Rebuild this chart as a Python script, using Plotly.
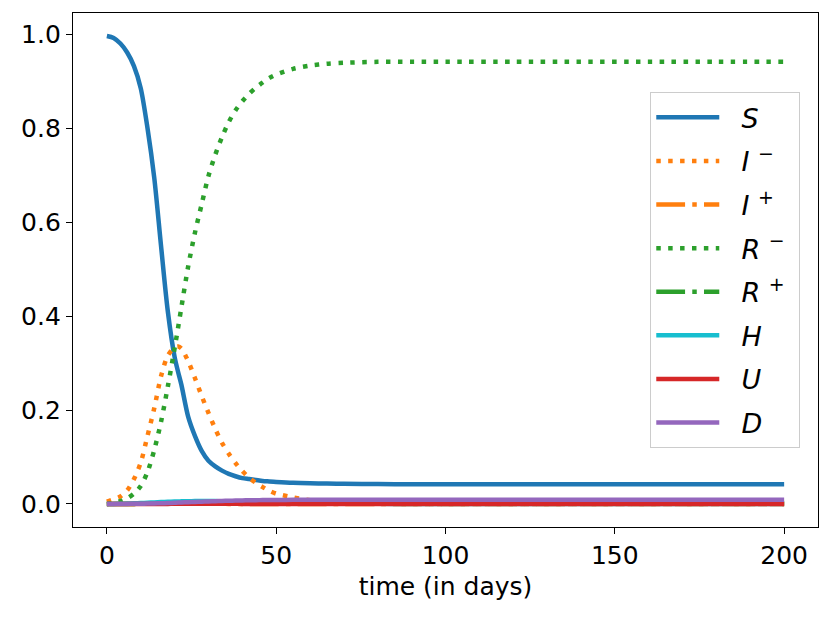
import plotly.graph_objects as go

# time grid (days)
t = [0, 2, 4, 6, 8, 10, 12, 14, 16, 18, 20, 21, 22, 24, 26, 28, 30, 32, 34, 36, 38, 40,
     42, 44, 46, 48, 50, 55, 60, 65, 70, 80, 90, 100, 120, 140, 160, 180, 200]

S = [0.996, 0.992, 0.980, 0.961, 0.932, 0.885, 0.800, 0.694, 0.549, 0.410, 0.313, 0.282,
     0.254, 0.186, 0.145, 0.113, 0.092, 0.080, 0.071, 0.064, 0.059, 0.055,
     0.053, 0.051, 0.049, 0.048, 0.047, 0.045, 0.044, 0.0435, 0.043, 0.0425, 0.042, 0.042,
     0.042, 0.042, 0.042, 0.042, 0.042]

I_minus = [0.005, 0.010, 0.016, 0.029, 0.053, 0.088, 0.145, 0.204, 0.272, 0.316, 0.333, 0.335,
           0.331, 0.304, 0.268, 0.230, 0.194, 0.160, 0.130, 0.107, 0.087, 0.070,
           0.056, 0.045, 0.036, 0.028, 0.022, 0.014, 0.008, 0.005, 0.003, 0.001, 0.0, 0.0,
           0.0, 0.0, 0.0, 0.0, 0.0]

I_plus = [0.0, 0.0, 0.0001, 0.0001, 0.0002, 0.0003, 0.0004, 0.0005, 0.0006, 0.0007, 0.0007, 0.0007,
          0.0007, 0.0006, 0.0005, 0.0004, 0.0004, 0.0003, 0.0003, 0.0002, 0.0002, 0.0001,
          0.0001, 0.0001, 0.0001, 0.0, 0.0, 0.0, 0.0, 0.0, 0.0, 0.0, 0.0, 0.0,
          0.0, 0.0, 0.0, 0.0, 0.0]

R_minus = [0.0, 0.002, 0.006, 0.012, 0.022, 0.038, 0.068, 0.115, 0.175, 0.250, 0.331, 0.374,
           0.418, 0.505, 0.577, 0.638, 0.698, 0.743, 0.781, 0.813, 0.838, 0.857,
           0.873, 0.886, 0.897, 0.907, 0.914, 0.926, 0.933, 0.937, 0.939, 0.941, 0.941, 0.941,
           0.941, 0.941, 0.941, 0.941, 0.941]

R_plus = [0.0, 0.0, 0.0, 0.0, 0.0001, 0.0002, 0.0003, 0.0005, 0.0007, 0.0009, 0.0011, 0.0012,
          0.0013, 0.0015, 0.0017, 0.0018, 0.0019, 0.0020, 0.0021, 0.0021, 0.0022, 0.0022,
          0.0022, 0.0022, 0.0023, 0.0023, 0.0023, 0.0023, 0.0023, 0.0023, 0.0023, 0.0023, 0.0023, 0.0023,
          0.0023, 0.0023, 0.0023, 0.0023, 0.0023]

H = [0.0, 0.0002, 0.0005, 0.0009, 0.0014, 0.0020, 0.0027, 0.0034, 0.0041, 0.0047, 0.0052, 0.0054,
     0.0056, 0.0059, 0.0061, 0.0062, 0.0062, 0.0061, 0.0060, 0.0058, 0.0055, 0.0051,
     0.0047, 0.0043, 0.0039, 0.0035, 0.0031, 0.0023, 0.0016, 0.0011, 0.0007, 0.0003, 0.0001, 0.0,
     0.0, 0.0, 0.0, 0.0, 0.0]

U = [0.0, 0.0, 0.0, 0.0, 0.0, 0.0001, 0.0001, 0.0001, 0.0002, 0.0002, 0.0003, 0.0003,
     0.0003, 0.0003, 0.0003, 0.0003, 0.0003, 0.0003, 0.0003, 0.0003, 0.0003, 0.0002,
     0.0002, 0.0002, 0.0002, 0.0001, 0.0001, 0.0001, 0.0, 0.0, 0.0, 0.0, 0.0, 0.0,
     0.0, 0.0, 0.0, 0.0, 0.0]

D = [0.0, 0.0, 0.0001, 0.0002, 0.0003, 0.0005, 0.0008, 0.0011, 0.0015, 0.0020, 0.0026, 0.0029,
     0.0032, 0.0038, 0.0044, 0.0050, 0.0055, 0.0060, 0.0065, 0.0069, 0.0073, 0.0076,
     0.0079, 0.0081, 0.0083, 0.0085, 0.0086, 0.0088, 0.0089, 0.0090, 0.0090, 0.0091, 0.0091, 0.0092,
     0.0092, 0.0092, 0.0092, 0.0092, 0.0092]

x_ticks = [0, 50, 100, 150, 200]
y_ticks = [0.0, 0.2, 0.4, 0.6, 0.8, 1.0]

LW = 4.5
DOT = "4.5px,7.4px"
DASHDOT = "28.8px,7.2px,4.5px,7.2px"

NB = "\u00a0"
series = [
    ("<i>S</i>", S, "#1f77b4", "solid"),
    ("<i>I</i> <sup>−</sup>", I_minus, "#ff7f0e", DOT),
    ("<i>I</i> <sup>+</sup>", I_plus, "#ff7f0e", DASHDOT),
    ("<i>R</i> <sup>−</sup>", R_minus, "#2ca02c", DOT),
    ("<i>R</i> <sup>+</sup>", R_plus, "#2ca02c", DASHDOT),
    ("<i>H</i>", H, "#17becf", "solid"),
    ("<i>U</i>", U, "#d62728", "solid"),
    ("<i>D</i>", D, "#9467bd", "solid"),
]

fig = go.Figure()
for i, (name, ys, color, dash) in enumerate(series):
    fig.add_trace(go.Scatter(
        x=t, y=ys, mode="lines", name=NB * 2 + name + NB, legendgroup=f"g{i}",
        line=dict(color=color, width=LW, dash=dash, shape="spline", smoothing=0.8),
    ))

font = dict(family="DejaVu Sans", size=25, color="black")
# page body has an 8px margin, so the figure is sized to fit the 830x619 window
fig.update_layout(
    width=822, height=611,
    margin=dict(l=65, r=12, t=5, b=92, autoexpand=False),
    paper_bgcolor="white", plot_bgcolor="white",
    font=font,
    showlegend=True,
    legend=dict(
        x=0.9758, y=0.8463, xanchor="right", yanchor="top",
        bordercolor="#cccccc", borderwidth=1.3, bgcolor="rgba(255,255,255,0.8)",
        font=dict(family="DejaVu Sans", size=27, color="black"),
        tracegroupgap=5.5, itemwidth=63,
    ),
    xaxis=dict(
        range=[-10, 210], tickvals=x_ticks, ticks="outside", ticklen=6, tickwidth=1.3,
        tickcolor="black", showline=True, linecolor="black", linewidth=1.3, mirror=True,
        showgrid=False, zeroline=False,
        title=dict(text="time (in days)", font=font, standoff=8),
    ),
    yaxis=dict(
        range=[-0.049, 1.045], tickvals=y_ticks, tickformat=".1f", ticks="outside",
        ticklen=6, tickwidth=1.3, tickcolor="black", showline=True, linecolor="black",
        linewidth=1.3, mirror=True, showgrid=False, zeroline=False,
    ),
)

fig.write_html("out.html")
